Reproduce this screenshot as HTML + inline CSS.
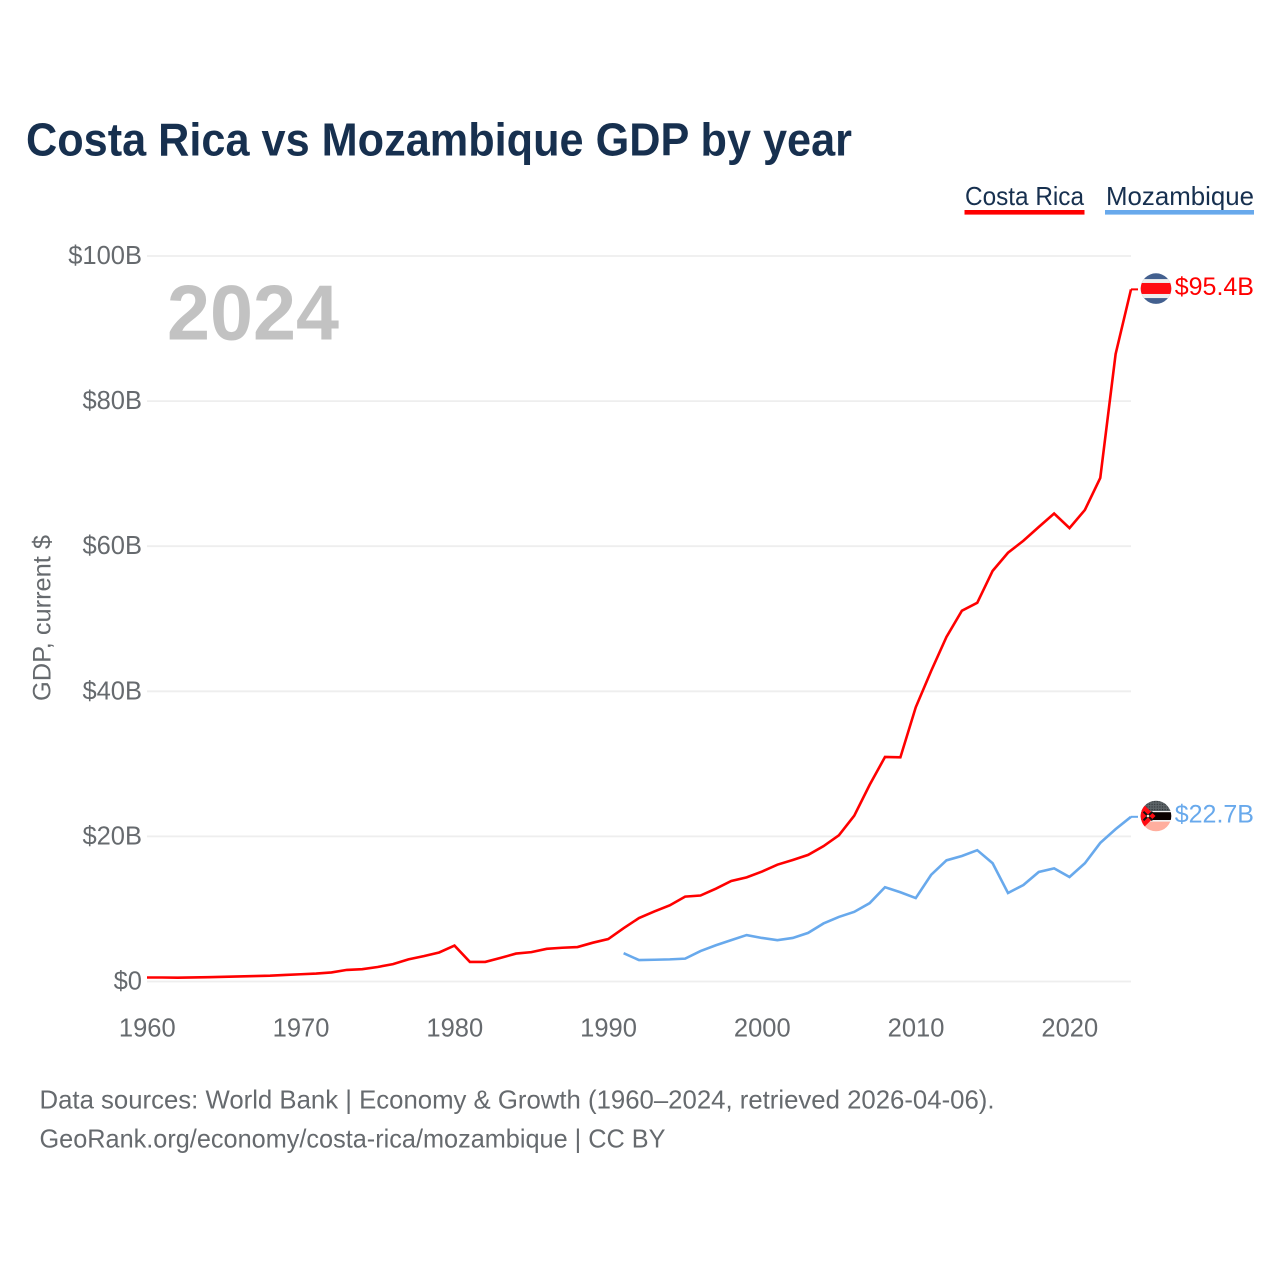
<!DOCTYPE html>
<html lang="en">
<head>
<meta charset="utf-8">
<title>Costa Rica vs Mozambique GDP by year</title>
<style>
html,body{margin:0;padding:0;background:#fff;}
svg{display:block;font-family:"Liberation Sans",sans-serif;}
</style>
</head>
<body>
<svg id="chart" xmlns="http://www.w3.org/2000/svg" width="1280" height="1280" viewBox="0 0 1280 1280">
  <defs>
    <clipPath id="clip-cr"><circle cx="0" cy="0" r="15.3"/></clipPath>
    <clipPath id="clip-mz"><circle cx="0" cy="0" r="15.3"/></clipPath>
    <pattern id="dots" width="2.6" height="2.6" patternUnits="userSpaceOnUse">
      <rect width="2.6" height="2.6" fill="#5d6468"/>
      <circle cx="1.3" cy="1.3" r="0.7" fill="#2e3336"/>
    </pattern>
  </defs>
  <text x="26" y="155.5" font-size="46" font-weight="700" fill="#17304f" textLength="826" lengthAdjust="spacingAndGlyphs">Costa Rica vs Mozambique GDP by year</text>

  <g>
    <g>
      <text x="965" y="205" font-size="26" fill="#17304f" textLength="119" lengthAdjust="spacingAndGlyphs">Costa Rica</text>
      <rect x="964.5" y="210" width="120" height="4.6" fill="#ff0000"/>
    </g>
    <g>
      <text x="1106" y="205" font-size="26" fill="#17304f" textLength="148" lengthAdjust="spacingAndGlyphs">Mozambique</text>
      <rect x="1105" y="210" width="149" height="4.6" fill="#68a9ec"/>
    </g>
  </g>

  <g id="grid"></g>
  <g id="yticks"></g>
  <g id="xticks"></g>

  <text transform="translate(50.5 618) rotate(-90)" text-anchor="middle" font-size="25" fill="#666a6e" textLength="166" lengthAdjust="spacingAndGlyphs">GDP, current $</text>
  <text x="167" y="339.5" font-size="78" font-weight="700" fill="#c2c2c2" textLength="172" lengthAdjust="spacingAndGlyphs">2024</text>

  <g id="series"></g>

  <g id="flag-cr">
    <g clip-path="url(#clip-cr)">
      <rect x="-16" y="-16" width="32" height="32" fill="#43608f"/>
      <rect x="-16" y="-9.5" width="32" height="19" fill="#eeeeee"/>
      <rect x="-16" y="-5.6" width="32" height="11" fill="#ff0b12"/>
    </g>
  </g>
  <g id="flag-mz">
    <g clip-path="url(#clip-mz)">
      <rect x="-16" y="-16" width="32" height="11" fill="url(#dots)"/>
      <rect x="-16" y="-5" width="32" height="1.4" fill="#f2f2f2"/>
      <rect x="-16" y="-3.8" width="32" height="7.8" fill="#0a0000"/>
      <rect x="-16" y="4" width="32" height="1.6" fill="#f2f2f2"/>
      <rect x="-16" y="5.6" width="32" height="10.4" fill="#ffae9e"/>
      <polygon points="-16,-15 -0.5,0 -16,15" fill="#ff0b12"/>
      <path d="M-12.5 -4.3 L-3.5 4.3 M-3.5 -4.3 L-12.5 4.3" stroke="#111" stroke-width="2" fill="none"/>
      <circle cx="-8" cy="0" r="1.3" fill="#f5f0d8"/>
    </g>
  </g>
  <g id="end-labels"></g>

  <g>
    <text x="39.5" y="1108.5" font-size="26" fill="#666a6e" textLength="955" lengthAdjust="spacingAndGlyphs">Data sources: World Bank | Economy &amp; Growth (1960–2024, retrieved 2026-04-06).</text>
    <text x="39.5" y="1147.5" font-size="26" fill="#666a6e" textLength="626" lengthAdjust="spacingAndGlyphs">GeoRank.org/economy/costa-rica/mozambique | CC BY</text>
  </g>
</svg>
<script>
const costaRicaStartYear = 1960;
const mozambiqueStartYear = 1991;
const costaRicaGdp = [0.55,0.55,0.52,0.56,0.6,0.65,0.7,0.75,0.8,0.9,1.0,1.1,1.25,1.6,1.7,2.0,2.4,3.05,3.5,4.0,4.95,2.7,2.7,3.25,3.85,4.05,4.5,4.65,4.75,5.35,5.85,7.35,8.75,9.65,10.5,11.7,11.85,12.8,13.85,14.35,15.15,16.1,16.75,17.45,18.65,20.15,22.85,27.1,30.95,30.9,37.8,42.8,47.5,51.1,52.2,56.6,59.1,60.75,62.65,64.5,62.5,65.0,69.4,86.5,95.4];
const mozambiqueGdp = [3.9,2.95,3.0,3.05,3.15,4.2,5.0,5.7,6.4,6.0,5.7,6.0,6.7,8.0,8.9,9.6,10.8,13.0,12.3,11.5,14.7,16.7,17.3,18.1,16.3,12.2,13.3,15.1,15.6,14.4,16.3,19.1,21.0,22.7];
const yTickValues = [0,20,40,60,80,100];
const yTickLabels = ["$0","$20B","$40B","$60B","$80B","$100B"];
const xTickValues = [1960,1970,1980,1990,2000,2010,2020];

const NS = "http://www.w3.org/2000/svg";
const plot = {left:147, right:1131, top:256, bottom:981.5, x0:1960, x1:2024, y0:0, y1:100};
function xScale(year){ return plot.left + (year - plot.x0) / (plot.x1 - plot.x0) * (plot.right - plot.left); }
function yScale(v){ return plot.bottom - (v - plot.y0) / (plot.y1 - plot.y0) * (plot.bottom - plot.top); }
function make(tag, attrs, parent){
  const el = document.createElementNS(NS, tag);
  for (const k in attrs) el.setAttribute(k, attrs[k]);
  parent.appendChild(el);
  return el;
}

const grid = document.getElementById("grid");
const yticks = document.getElementById("yticks");
yTickValues.forEach(function(v, i){
  const line = make("line", {x1:plot.left, x2:plot.right, y1:yScale(v), y2:yScale(v), stroke:"#eeeeee", "stroke-width":1.8}, grid);
  
  
  const t = make("text", {x:142, y:yScale(v)+8, "text-anchor":"end", "font-size":25.5, fill:"#666a6e"}, yticks);
  
  
  t.textContent = yTickLabels[i];
});

const xticks = document.getElementById("xticks");
xTickValues.forEach(function(year){
  const t = make("text", {x:xScale(year) + 0.3, y:1036.5, "text-anchor":"middle", "font-size":25.5, fill:"#666a6e"}, xticks);
  
  
  t.textContent = String(year);
});

const seriesGroup = document.getElementById("series");
function pointsFor(values, startYear){
  return values.map(function(v, i){ return xScale(startYear + i).toFixed(2) + "," + yScale(v).toFixed(2); }).join(" ");
}
const redLine = make("polyline", {points:pointsFor(costaRicaGdp, costaRicaStartYear), fill:"none", stroke:"#ff0000", "stroke-width":2.6, "stroke-linejoin":"miter"}, seriesGroup);


const blueLine = make("polyline", {points:pointsFor(mozambiqueGdp, mozambiqueStartYear), fill:"none", stroke:"#68a9ec", "stroke-width":2.6, "stroke-linejoin":"miter"}, seriesGroup);



const labels = document.getElementById("end-labels");
function endMarker(values, color, flagId){
  const v = values[values.length - 1];
  const y = yScale(v);
  const c = make("line", {x1:xScale(plot.x1), x2:1138, y1:y, y2:y, stroke:color, "stroke-width":2}, seriesGroup);
  
  
  document.getElementById(flagId).setAttribute("transform", "translate(1156 " + (y - 0.8) + ")");
  const t = make("text", {x:1254, y:y + 5.8, "text-anchor":"end", "font-size":25, fill:color}, labels);
  
  
  t.textContent = "$" + v.toFixed(1) + "B";
}
endMarker(costaRicaGdp, "#ff0000", "flag-cr");
endMarker(mozambiqueGdp, "#68a9ec", "flag-mz");
</script>
</body>
</html>
